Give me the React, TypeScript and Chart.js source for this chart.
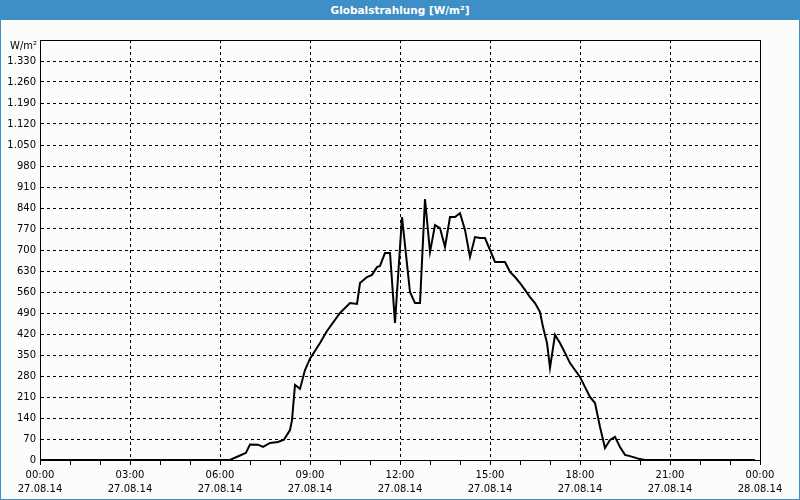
import React, { useEffect, useRef } from 'react';
import { Chart, registerables } from 'chart.js';

Chart.register(...registerables);

const TITLE = 'Globalstrahlung [W/m²]';
const UNIT = 'W/m²';
const TIME_LABELS = ['00:00', '03:00', '06:00', '09:00', '12:00', '15:00', '18:00', '21:00', '00:00'];
const DATE_LABELS = ['27.08.14', '27.08.14', '27.08.14', '27.08.14', '27.08.14', '27.08.14', '27.08.14', '27.08.14', '28.08.14'];

// time of day in hours
const HOURS = [
  0, 6.333, 6.667, 6.867, 7.0, 7.267, 7.433, 7.667, 7.933, 8.133,
  8.333, 8.4, 8.5, 8.667, 8.833, 9.0, 9.333, 9.567, 10.0, 10.333,
  10.567, 10.667, 10.9, 11.067, 11.233, 11.333, 11.5, 11.667, 11.833, 12.067,
  12.333, 12.5, 12.667, 12.833, 12.9, 13.0, 13.167, 13.333, 13.5, 13.667,
  13.833, 14.0, 14.167, 14.333, 14.5, 14.667, 14.833, 15.0, 15.167, 15.5,
  15.667, 15.833, 16.0, 16.167, 16.333, 16.5, 16.667, 16.767, 16.9, 17.0,
  17.167, 17.333, 17.5, 17.667, 17.833, 18.0, 18.167, 18.333, 18.5, 18.667,
  18.833, 19.0, 19.167, 19.333, 19.5, 19.667, 20.0, 20.167, 23.833,
];
// global radiation W/m²
const VALUES = [
  0, 0, 15, 24, 52, 51, 44, 57, 60, 68,
  100, 133, 250, 237, 300, 338, 390, 430, 490, 523,
  520, 590, 610, 617, 643, 647, 690, 690, 457, 810,
  560, 523, 523, 870, 800, 693, 783, 773, 710, 810,
  810, 823, 767, 677, 743, 740, 740, 700, 660, 660,
  627, 610, 590, 567, 543, 523, 493, 443, 390, 307,
  417, 390, 357, 323, 300, 277, 243, 210, 190, 110,
  40, 67, 77, 43, 17, 13, 3, 0, 0,
];

const Y_MAX = 1400;
const Y_STEP = 70;
const FONT_FAMILY = '"DejaVu Sans", sans-serif';

function fmt(v: number): string {
  return String(v).replace(/\B(?=(\d{3})+(?!\d))/g, '.');
}

const frame = {
  id: 'frame',
  afterDraw(chart: any) {
    const { ctx, chartArea } = chart;
    ctx.save();
    ctx.strokeStyle = '#000';
    ctx.lineWidth = 1;
    ctx.setLineDash([]);
    ctx.strokeRect(
      Math.round(chartArea.left) + 0.5,
      Math.round(chartArea.top) + 0.5,
      Math.round(chartArea.right - chartArea.left),
      Math.round(chartArea.bottom - chartArea.top)
    );
    // unit label at the top of the value axis
    ctx.fillStyle = '#000';
    ctx.font = `10px ${FONT_FAMILY}`;
    ctx.textAlign = 'right';
    ctx.textBaseline = 'middle';
    ctx.fillText(UNIT, chartArea.left - 3, chartArea.top + 6);
    ctx.restore();
  },
};

export default function App() {
  const ref = useRef<HTMLCanvasElement>(null);

  useEffect(() => {
    document.body.style.margin = '0';
    const canvas = ref.current;
    if (!canvas) return;
    const font = { family: FONT_FAMILY, size: 10 };
    const chart = new Chart(canvas, {
      type: 'line',
      data: {
        datasets: [
          {
            data: HOURS.map((h, i) => ({ x: h, y: VALUES[i] })),
            borderColor: '#000',
            borderWidth: 2,
            pointRadius: 0,
            fill: false,
            tension: 0,
          },
        ],
      },
      options: {
        responsive: false,
        animation: false,
        layout: { padding: { top: 20, right: 39, left: 0, bottom: 0 } },
        plugins: { legend: { display: false }, tooltip: { enabled: false }, title: { display: false } },
        scales: {
          x: {
            type: 'linear',
            min: 0,
            max: 24,
            afterFit: (s: any) => { s.height = 39; },
            ticks: {
              stepSize: 1,
              autoSkip: false,
              maxRotation: 0,
              color: '#000',
              font: { ...font, lineHeight: 1.45 },
              padding: 3,
              callback: (v: any) => {
                const n = Number(v);
                if (n % 3 !== 0) return '';
                return [TIME_LABELS[n / 3], DATE_LABELS[n / 3]];
              },
            },
            grid: {
              color: (c: any) => (c.tick && c.tick.value % 3 === 0 ? '#000' : 'rgba(0,0,0,0)'),
              tickColor: '#000',
              tickLength: 5,
              tickBorderDash: [],
              lineWidth: 1,
            },
            border: { display: true, color: '#000', width: 1, dash: [3, 3] },
          },
          y: {
            type: 'linear',
            min: 0,
            max: Y_MAX,
            afterFit: (s: any) => { s.width = 39; },
            ticks: {
              stepSize: Y_STEP,
              autoSkip: false,
              color: '#000',
              font,
              padding: 4,
              callback: (v: any) => (Number(v) === Y_MAX ? '' : fmt(Number(v))),
            },
            grid: { color: '#000', drawTicks: false, lineWidth: 1 },
            border: { display: true, color: '#000', width: 1, dash: [3, 3] },
          },
        },
      },
      plugins: [frame],
    } as any);
    return () => chart.destroy();
  }, []);

  return (
    <div
      style={{
        width: 800,
        height: 500,
        boxSizing: 'border-box',
        borderLeft: '1px solid #3d8fc6',
        borderRight: '1px solid #3d8fc6',
        borderBottom: '1px solid #3d8fc6',
        background: '#fafdfa',
        overflow: 'hidden',
      }}
    >
      <div
        style={{
          height: 20,
          lineHeight: '20px',
          background: '#3d8fc6',
          color: '#fff',
          textAlign: 'center',
          fontFamily: FONT_FAMILY,
          fontWeight: 'bold',
          fontSize: 10.5,
        }}
      >
        {TITLE}
      </div>
      <canvas ref={ref} width={798} height={479} style={{ display: 'block' }} />
    </div>
  );
}
